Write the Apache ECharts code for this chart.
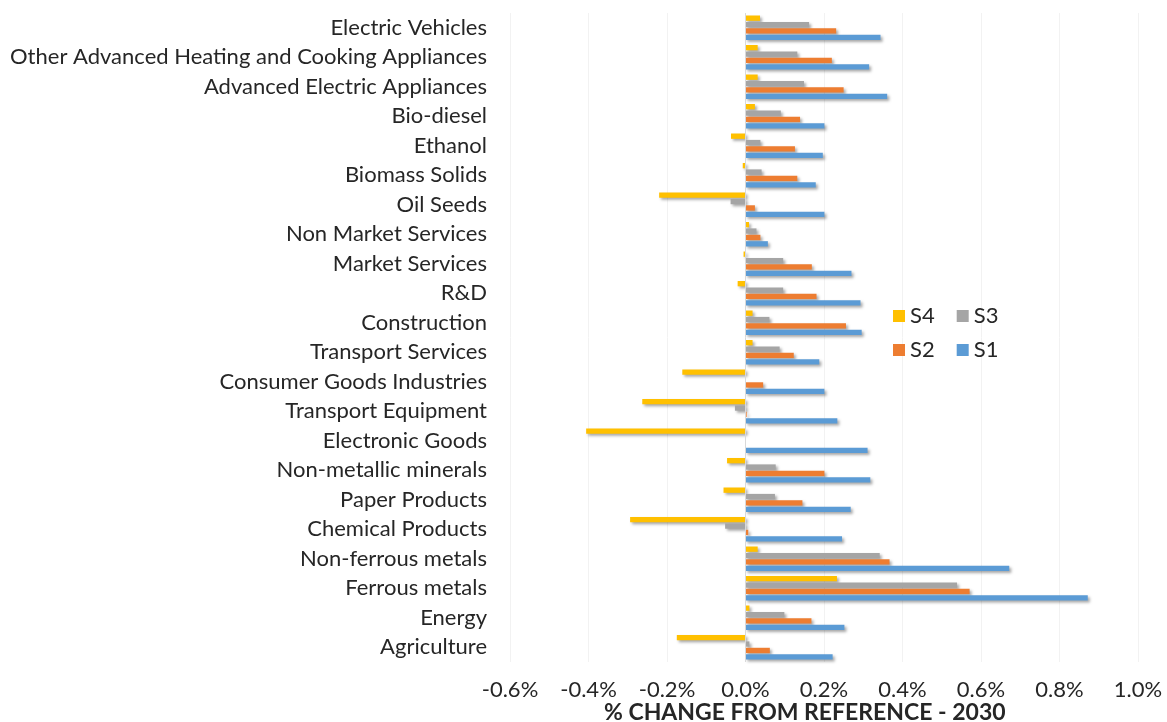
<!DOCTYPE html>
<html>
<head>
<meta charset="utf-8">
<script src="https://cdn.jsdelivr.net/npm/echarts@6/dist/echarts.min.js"></script>
<style>
html,body{margin:0;padding:0;background:#fff;}
#chart{width:1167px;height:722px;}
</style>
</head>
<body>
<div id="chart"></div>
<script>
const categories = ["Agriculture","Energy","Ferrous metals","Non-ferrous metals","Chemical Products","Paper Products","Non-metallic minerals","Electronic Goods","Transport Equipment","Consumer Goods Industries","Transport Services","Construction","R&D","Market Services","Non Market Services","Oil Seeds","Biomass Solids","Ethanol","Bio-diesel","Advanced Electric Appliances","Other Advanced Heating and Cooking Appliances","Electric Vehicles"];
const s1 = [0.222,0.252,0.872,0.672,0.246,0.268,0.318,0.311,0.234,0.201,0.188,0.296,0.293,0.270,0.057,0.201,0.179,0.197,0.201,0.361,0.315,0.344];
const s2 = [0.062,0.168,0.571,0.367,0.007,0.145,0.201,0,0.003,0.045,0.123,0.256,0.181,0.169,0.038,0.024,0.132,0.126,0.139,0.250,0.220,0.231];
const s3 = [0.010,0.099,0.539,0.342,-0.052,0.075,0.077,0,-0.027,0,0.087,0.061,0.096,0.096,0.028,-0.038,0.041,0.038,0.090,0.149,0.132,0.162];
const s4 = [-0.175,0.010,0.233,0.031,-0.294,-0.056,-0.047,-0.406,-0.263,-0.161,0.018,0.018,-0.020,-0.005,0.009,-0.220,-0.007,-0.037,0.024,0.031,0.031,0.037];
const xTicks = {min:-0.6, max:1.0, interval:0.2};
const axisTitle = "% CHANGE FROM REFERENCE - 2030";

const FONT = "Lato";
const shadow = {shadowColor:'rgba(0,0,0,0.35)', shadowBlur:3, shadowOffsetX:2, shadowOffsetY:2};
function mk(name, data, color){
  return {name:name, type:'bar', data:data, barGap:'20%', barCategoryGap:'17%',
    itemStyle:Object.assign({color:color}, shadow), animation:false};
}
const series = [mk('S4', s4, '#FFC000'), mk('S3', s3, '#A5A5A5'), mk('S2', s2, '#ED7D31'), mk('S1', s1, '#5B9BD5')];
series[3].markLine = {silent:true, symbol:'none', label:{show:false}, lineStyle:{color:'#D9D9D9', type:'solid', width:1}, data:[{xAxis:0}]};

const chart = echarts.init(document.getElementById('chart'));
const legendText = {fontFamily:FONT, fontSize:22, color:'#262626'};
chart.setOption({
  animation:false,
  grid:{left:510, right:29, top:13, bottom:60, containLabel:false},
  legend:[
    {data:['S4','S3'], left:888, top:300, itemWidth:12, itemHeight:12, itemGap:22, icon:'rect', textStyle:legendText},
    {data:['S2','S1'], left:888, top:334, itemWidth:12, itemHeight:12, itemGap:22, icon:'rect', textStyle:legendText}
  ],
  xAxis:{type:'value', min:xTicks.min, max:xTicks.max, interval:xTicks.interval,
    axisLine:{show:false}, axisTick:{show:false},
    splitLine:{show:true, lineStyle:{color:'#F2F2F2'}},
    axisLabel:{fontFamily:FONT, fontSize:22, color:'#262626', margin:17, formatter:v=>v.toFixed(1)+'%'}},
  yAxis:{type:'category', data:categories, axisLine:{show:false}, axisTick:{show:false},
    axisLabel:{fontFamily:FONT, fontSize:22, color:'#262626', margin:23, interval:0}},
  graphic:[{type:'text', left:604, top:701, style:{text:axisTitle, font:'bold 23px '+FONT, fill:'#262626'}}],
  series:series
});
</script>
</body>
</html>
